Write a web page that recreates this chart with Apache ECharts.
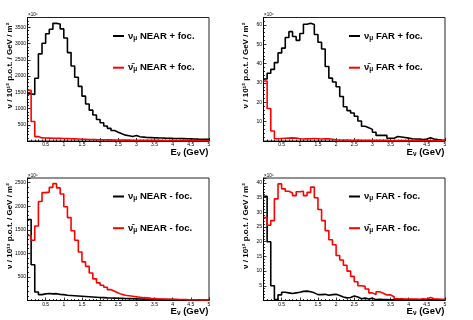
<!DOCTYPE html>
<html><head><meta charset="utf-8">
<script src="https://cdn.jsdelivr.net/npm/echarts@6/dist/echarts.min.js"></script>
<style>html,body{margin:0;padding:0;background:#fff}#c{width:473px;height:320px}</style>
</head><body><div id="c"></div><script>
// bin edges: 0..5 GeV, 0.1 GeV bins
const binWidth = 0.1;
const nBins = 50;
const xTickLabels = ['0.5','1','1.5','2','2.5','3','3.5','4','4.5','5'];

const nearPlusNumu = [1450,1430,1930,2680,3010,3300,3440,3620,3600,3450,
 3170,2720,2310,1960,1680,1380,1140,950,800,660,
 560,460,390,325,270,220,180,160,140,170,
 130,120,110,105,100,95,92,88,85,80,
 78,75,72,68,65,62,58,55,52,50];
const nearPlusNumubar = [1560,600,135,95,90,88,85,82,80,76,
 72,68,64,60,56,52,48,45,42,40,
 38,36,34,32,30,28,27,26,25,24,
 23,22,21,20,19,18,17,16,15,15,
 14,14,13,13,12,12,11,11,10,10];
const farPlusNumu = [32,35,37,40.5,45.5,48,53.5,56.5,54,52,
 55.5,60.3,60.8,60.2,55,51,47.5,38.5,32.5,30.5,
 28,23,17.7,15.7,14.5,12.8,10.3,7.6,6.8,6,
 4.5,2.9,2.9,2.9,1.4,1.4,2.3,2.1,1.8,1.5,
 1.2,1.0,1.0,0.8,1.0,1.7,1.0,0.7,0.5,0.4];
const farPlusNumubar = [31,16.8,5.2,1.2,1.3,1.4,1.5,1.6,1.5,1.2,
 1.0,1.1,1.2,1.3,1.2,1.0,1.1,1.2,0.9,0.6,
 0.5,0.5,0.5,0.4,0.4,0.5,0.4,0.3,0.3,0.3,
 0.4,0.3,0.3,0.3,0.2,0.2,0.2,0.2,0.2,0.2,
 0.2,0.2,0.2,0.2,0.2,0.2,0.2,0.2,0.2,0.2];
const nearMinusNumu = [1720,760,180,125,140,150,140,145,130,125,
 110,105,100,95,90,85,80,75,70,65,
 60,55,52,50,48,45,42,40,37,35,
 32,30,28,26,24,22,21,20,19,18,
 17,16,15,14,13,12,12,11,10,10];
const nearMinusNumubar = [1380,1280,1580,2100,2290,2300,2400,2480,2390,2260,
 1990,1760,1480,1280,1030,820,725,585,460,375,
 325,280,230,195,160,130,110,100,90,80,
 70,60,55,45,40,35,32,30,28,26,
 24,22,20,18,17,16,15,14,13,12];
const farMinusNumu = [35.5,20,5,0.3,1.9,2.8,2.6,2.4,2.6,2.8,
 3.1,3.2,3.0,2.6,2.0,2.0,2.1,1.8,2.0,2.1,
 1.7,1.2,0.9,1.0,1.5,1.2,0.6,0.8,0.5,0.8,
 0.3,0.4,0.3,0.3,0.2,0.2,0.2,0.2,0.2,0.2,
 0.2,0.2,0.2,0.2,0.2,0.2,0.2,0.2,0.2,0.2];
const farMinusNumubar = [28.2,25.6,27.2,34.6,39.7,38,37.2,36.6,35.7,37,
 37.2,35.7,36.8,38.6,35,31,27.2,23.8,20.7,19,
 15.3,13.8,12,10,8.2,6.4,5,4.8,3.9,2.6,
 2,3,2.5,1.9,1.9,1.3,0.6,0.6,0.5,0.5,
 0.5,0.5,0.4,0.6,0.5,1.0,0.6,0.5,0.4,0.4];

const yMax = [3800, 63.8, 2600, 41.7];
const yInterval = [500, 10, 500, 5];
const legendNames = [
  ['NEAR + foc.', 'NEAR + foc.'],
  ['FAR + foc.', 'FAR + foc.'],
  ['NEAR - foc.', 'NEAR - foc.'],
  ['FAR - foc.', 'FAR - foc.']
];
const potExp = ['¹²','¹²','¹³','¹²'];
const panelSeries = [
  [nearPlusNumu, nearPlusNumubar],
  [farPlusNumu, farPlusNumubar],
  [nearMinusNumu, nearMinusNumubar],
  [farMinusNumu, farMinusNumubar]
];

function histPoints(vals){
  const pts = [];
  for (let i = 0; i <= nBins; i++) {
    const x = +(i * binWidth).toFixed(3);
    pts.push([x, vals[Math.min(i, nBins - 1)]]);
  }
  return pts;
}

const grids = [
  {left:27.5, top:17.5, width:181.5, height:123.5},
  {left:263.5, top:17.5, width:181.5, height:123.5},
  {left:27.5, top:178, width:181.5, height:122.5},
  {left:263.5, top:178, width:181.5, height:122.5}
];
const FONT = 'Liberation Sans, Arial, Helvetica, sans-serif';
const lab = {fontSize:5, color:'#000', fontFamily:FONT};

const option = {
  animation:false,
  backgroundColor:'#fff',
  grid: grids.map(g => Object.assign({show:true, borderColor:'#222', borderWidth:1, backgroundColor:'transparent', containLabel:false}, g)),
  xAxis: grids.map((g,i)=>({
    type:'value', gridIndex:i, min:0, max:5, interval:0.5,
    axisLine:{show:true, lineStyle:{color:'#000', width:1}},
    axisTick:{show:true, inside:true, length:3, lineStyle:{color:'#000', width:0.8}},
    minorTick:{show:true, splitNumber:5, length:1.5, lineStyle:{color:'#000', width:0.8}},
    axisLabel:Object.assign({margin:1.5, showMinLabel:false,
      formatter:v => { const k = Math.round(v/0.5) - 1; return k >= 0 ? xTickLabels[k] : ''; }}, lab),
    splitLine:{show:false}
  })),
  yAxis: grids.map((g,i)=>({
    type:'value', gridIndex:i, min:0, max:yMax[i], interval:yInterval[i],
    axisLine:{show:true, lineStyle:{color:'#000', width:1}},
    axisTick:{show:true, inside:true, length:3, lineStyle:{color:'#000', width:0.8}},
    minorTick:{show:true, splitNumber:5, length:1.5, lineStyle:{color:'#000', width:0.8}},
    axisLabel:Object.assign({margin:1.5, showMinLabel:false, showMaxLabel:false,
      formatter:v => String(Math.round(v))}, lab),
    splitLine:{show:false}
  })),
  series: [],
  graphic: []
};

panelSeries.forEach((pair, i) => {
  option.series.push({type:'line', xAxisIndex:i, yAxisIndex:i, step:'end', symbol:'none', silent:true,
    lineStyle:{color:'#000', width:1.6}, data:histPoints(pair[0]), z:2});
  option.series.push({type:'line', xAxisIndex:i, yAxisIndex:i, step:'end', symbol:'none', silent:true,
    lineStyle:{color:'#ff0000', width:1.6}, data:histPoints(pair[1]), z:3});
});

const richLeg = {
  m:{fontSize:9.5, fontWeight:'bold', fontFamily:FONT, lineHeight:11, fill:'#000'},
  s:{fontSize:6.5, fontWeight:'bold', fontFamily:FONT, lineHeight:7, verticalAlign:'bottom', fill:'#000'}
};

grids.forEach((g, i) => {
  const colors = ['#000', '#ff0000'];
  const nuSym = ['ν', 'ν̄'];
  [0,1].forEach(k => {
    const ly = g.top + (k === 0 ? 18.5 : 50.2);
    option.graphic.push({type:'line', silent:true, z:10,
      shape:{x1:g.left+85.5, y1:ly, x2:g.left+96.5, y2:ly},
      style:{stroke:colors[k], lineWidth:2}});
    option.graphic.push({type:'text', silent:true, z:10, x:g.left+100.5, y:ly,
      style:{text:'{m|' + nuSym[k] + '}{s|μ}{m| ' + legendNames[i][k] + '}', rich:richLeg,
        verticalAlign:'middle', align:'left', fill:'#000'}});
  });
  // x title
  option.graphic.push({type:'text', silent:true, z:10, x:g.left+g.width-0.5, y:g.top+g.height+11,
    style:{text:'{m|E}{s|ν}{m| (GeV)}', rich:richLeg, align:'right', verticalAlign:'middle', fill:'#000'}});
  // y title
  option.graphic.push({type:'text', silent:true, z:10, x:g.left-17.5, y:g.top+48, rotation:Math.PI/2,
    style:{text:'ν / 10' + potExp[i] + ' p.o.t. / GeV / m²', font:'bold 8px ' + FONT,
      align:'center', verticalAlign:'middle', fill:'#000'}});
  // exponent
  option.graphic.push({type:'text', silent:true, z:10, x:g.left+0.5, y:g.top-2.5,
    style:{text:'×10⁶', font:'4.5px ' + FONT, align:'left', verticalAlign:'middle', fill:'#000'}});
});

const chart = echarts.init(document.getElementById('c'), null, {renderer:'canvas'});
chart.setOption(option);
</script></body></html>
